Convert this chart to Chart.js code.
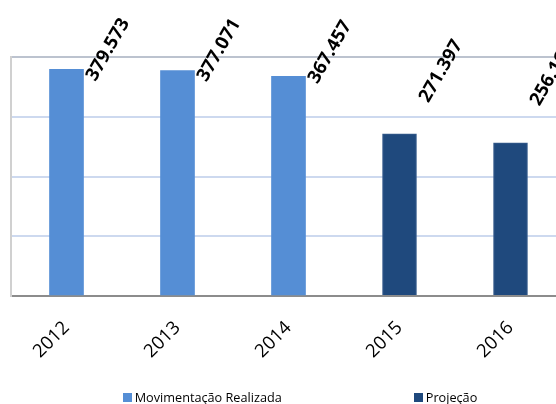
<!DOCTYPE html>
<html>
<head>
<meta charset="utf-8">
<script src="https://cdn.jsdelivr.net/npm/chart.js@4"></script>
<style>
  html, body { margin: 0; padding: 0; background: #ffffff; overflow: hidden; width: 556px; height: 404px; }
  #wrap { position: absolute; left: 0; top: 0; width: 600px; height: 404px; }
  #legend { position: absolute; left: 0; top: 388px; width: 600px; display: flex; justify-content: center; gap: 132px;
            font-family: "Open Sans", sans-serif; font-size: 12.7px; color: #000; }
  .item { display: flex; align-items: center; white-space: nowrap; }
  .box { width: 9px; height: 9px; margin-right: 3px; }
</style>
</head>
<body>
<div id="wrap">
  <canvas id="c" width="600" height="404"></canvas>
  <div id="legend"></div>
</div>
<script>
const years = ['2012', '2013', '2014', '2015', '2016'];
const realizada = [379573, 377071, 367457, null, null];
const projecao = [null, null, null, 271397, 256160];
const seriesNames = ['Movimentação Realizada', 'Projeção'];
const yMax = 400000;
const yStep = 100000;

function fmt(v) {
  return String(Math.round(v)).replace(/\B(?=(\d{3})+(?!\d))/g, '.');
}

const labelPlugin = {
  id: 'barLabels',
  afterDatasetsDraw(chart) {
    const ctx = chart.ctx;
    const top = chart.chartArea.top;
    ctx.save();
    ctx.font = 'bold 18.5px "Open Sans", sans-serif';
    ctx.fillStyle = '#000000';
    ctx.textAlign = 'left';
    ctx.textBaseline = 'alphabetic';
    chart.data.datasets.forEach((ds, di) => {
      const meta = chart.getDatasetMeta(di);
      meta.data.forEach((el, i) => {
        const v = ds.data[i];
        if (v === null || v === undefined) return;
        const x = el.x + el.width / 2 + 12;
        const y = top + (el.y - top) / 3 + 21;
        ctx.save();
        ctx.translate(x, y);
        ctx.rotate(-60 * Math.PI / 180);
        ctx.fillText(fmt(v), 0, 0);
        ctx.restore();
      });
    });
    ctx.restore();
  }
};

const chart = new Chart(document.getElementById('c'), {
  type: 'bar',
  data: {
    labels: years,
    datasets: [
      { label: seriesNames[0], data: realizada, backgroundColor: '#558ED5', barThickness: 34 },
      { label: seriesNames[1], data: projecao, backgroundColor: '#1F497D', borderColor: '#3A5F8F', borderWidth: 1, barThickness: 34 }
    ]
  },
  options: {
    responsive: false,
    animation: false,
    devicePixelRatio: 1,
    layout: { padding: { left: 11, top: 57, right: 34, bottom: 0 } },
    plugins: { legend: { display: false }, tooltip: { enabled: false } },
    scales: {
      x: {
        stacked: true,
        grid: { display: false, drawTicks: false },
        border: { display: true, color: '#8C8C8C', width: 2 },
        ticks: { minRotation: 45, maxRotation: 45, padding: 21, color: '#000000',
                 font: { family: '"Open Sans", sans-serif', size: 18.5 } },
        afterFit(s) { s.height = 108; }
      },
      y: {
        stacked: true,
        min: 0, max: yMax,
        ticks: { display: false, stepSize: yStep },
        grid: { color: (c) => c.tick && c.tick.value === yMax ? '#BCC3CF' : '#CDD9EF', lineWidth: 2, drawTicks: false },
        border: { display: true, color: '#D0D0D0', width: 2 },
        afterFit(s) { s.width = 0; }
      }
    }
  },
  plugins: [labelPlugin]
});

const legend = document.getElementById('legend');
chart.data.datasets.forEach(ds => {
  const item = document.createElement('div');
  item.className = 'item';
  const box = document.createElement('span');
  box.className = 'box';
  box.style.background = ds.backgroundColor;
  const txt = document.createElement('span');
  txt.textContent = ds.label;
  item.appendChild(box);
  item.appendChild(txt);
  legend.appendChild(item);
});
</script>
</body>
</html>
